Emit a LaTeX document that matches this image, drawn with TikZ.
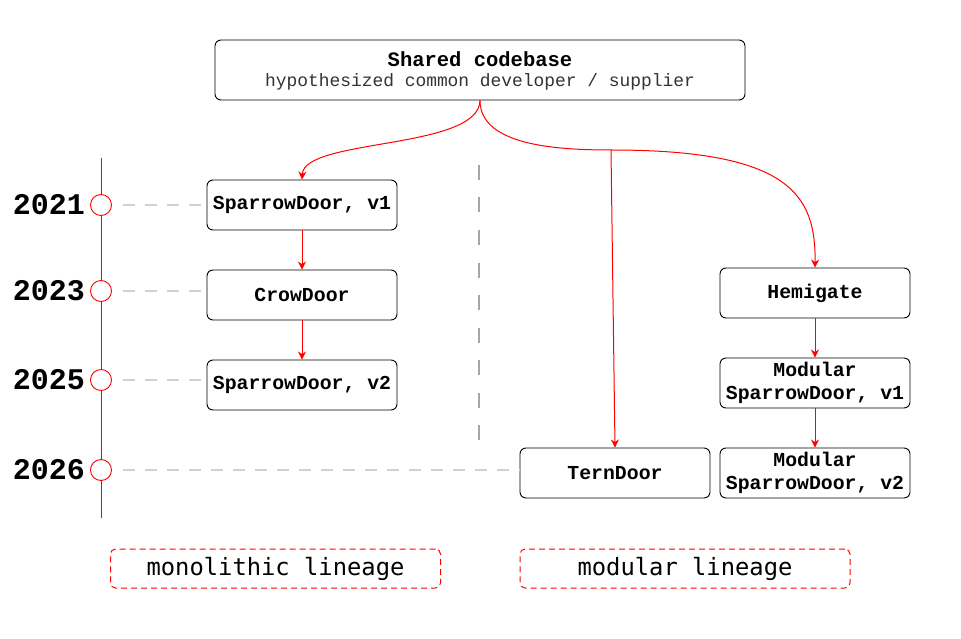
\documentclass[tikz,border=0pt]{standalone}
\usepackage{fontspec}
\newfontfamily\cour{Liberation Mono}
\newfontfamily\dvm{DejaVu Sans Mono}
\usetikzlibrary{arrows.meta}
\definecolor{hgray}{HTML}{D0D0D0}
\definecolor{vgray}{HTML}{A6A6A6}
\definecolor{subgray}{HTML}{333333}
\begin{document}
\begin{tikzpicture}[x=1pt,y=-1pt,
  box/.style={draw=black, line width=0.9pt, rounded corners=6pt, fill=white,
    minimum width=190pt, minimum height=50pt, inner sep=0pt, align=center,
    font=\cour\bfseries\fontsize{19.8}{23.5}\selectfont},
  yearlbl/.style={anchor=east, inner sep=0pt, font=\cour\bfseries\fontsize{30}{30}\selectfont},
  tick/.style={circle, draw=red, line width=0.9pt, fill=white, minimum size=21pt, inner sep=0pt},
  hdash/.style={draw=hgray, line width=1.4pt, dash pattern=on 12pt off 10pt},
  link/.style={draw=red, line width=1pt, -{Stealth[length=8pt,width=8pt,inset=2.5pt]}},
  lineage/.style={draw=red, line width=1pt, dash pattern=on 6pt off 4pt, rounded corners=5pt,
    minimum width=330pt, minimum height=39pt, inner sep=0pt, font=\dvm\fontsize{23.8}{25}\selectfont}
]
\useasboundingbox[fill=white] (0,0) rectangle (961,639);

% top node
\node[draw=black, line width=0.9pt, rounded corners=6pt, minimum width=530pt, minimum height=60pt, inner sep=0pt] (top) at (480,70) {};
\node[inner sep=0pt, font=\cour\bfseries\fontsize{20.5}{21}\selectfont] (toptitle) at (480,59) {Shared codebase};
\node[inner sep=0pt, font=\cour\fontsize{17.9}{18}\selectfont, text=subgray] (topsub) at (480,81.5) {hypothesized common developer / supplier};

% timeline
\coordinate (tltop) at (101,158);
\coordinate (tlbot) at (101,518);
\draw[red, line width=1pt] (tltop) -- (tlbot);

% separator
\coordinate (septop) at (479,165);
\coordinate (sepbot) at (479,440);
\draw[vgray, line width=2pt, dash pattern=on 15pt off 17.5pt] (septop) -- (sepbot);

% boxes
\node[box] (sd1) at (302,205) {SparrowDoor, v1};
\node[box] (crow) at (302,295) {CrowDoor};
\node[box] (sd2) at (302,385) {SparrowDoor, v2};
\node[box] (hemi) at (815,293) {Hemigate};
\node[box] (msd1) at (815,383) {Modular\\SparrowDoor, v1};
\node[box] (msd2) at (815,473) {Modular\\SparrowDoor, v2};
\node[box] (tern) at (615,473) {TernDoor};

% years
\node[tick] (c1) at (101,205) {};
\node[tick] (c2) at (101,291) {};
\node[tick] (c3) at (101,380) {};
\node[tick] (c4) at (101,470) {};
\node[yearlbl] (y1) at (85,205) {2021};
\node[yearlbl] (y2) at (85,291) {2023};
\node[yearlbl] (y3) at (85,380) {2025};
\node[yearlbl] (y4) at (85,470) {2026};

\draw[hdash] ([xshift=11pt]c1.east) -- (c1 -| sd1.west);
\draw[hdash] ([xshift=11pt]c2.east) -- (c2 -| crow.west);
\draw[hdash] ([xshift=11pt]c3.east) -- (c3 -| sd2.west);
\draw[hdash] ([xshift=11pt]c4.east) -- (c4 -| tern.west);

% links
\coordinate (branch) at (611,150);
\draw[link] (top.south) .. controls (479,150) and (304,138) .. (sd1.north);
\draw[draw=red, line width=1pt] (top.south) .. controls (480,145) and (555,150) .. (branch);
\draw[link] (branch) .. controls (790,150) and (816,195) .. (hemi.north);
\draw[link] (branch) -- (tern.north);
\draw[link] (sd1) -- (crow);
\draw[link] (crow) -- (sd2);
\draw[link] (hemi) -- (msd1);
\draw[link] (msd1) -- (msd2);

% lineage labels
\node[lineage] (mono) at (275.5,568.5) {monolithic lineage};
\node[lineage] (modu) at (685,568.5) {modular lineage};
\end{tikzpicture}
\end{document}
